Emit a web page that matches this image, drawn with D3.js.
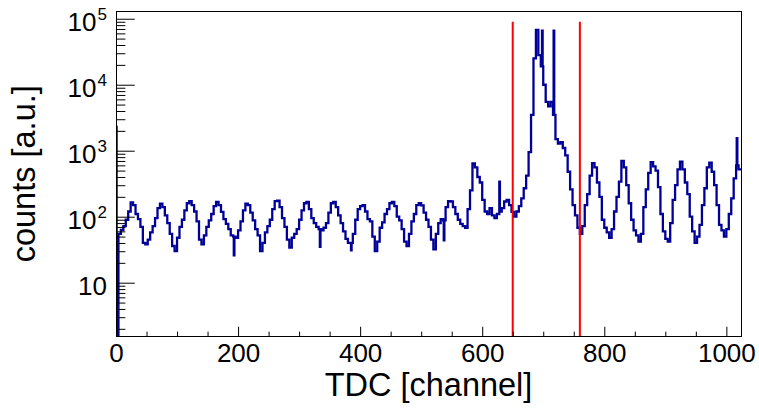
<!DOCTYPE html>
<html>
<head>
<meta charset="utf-8">
<script src="https://cdn.jsdelivr.net/npm/d3@7"></script>
<style>
  html, body { margin: 0; padding: 0; background: #fff; }
  svg { display: block; font-family: "Liberation Sans", Arial, Helvetica, sans-serif; }
</style>
</head>
<body>
<svg id="chart" width="759" height="409"></svg>
<script>
// TDC spectrum: 1024 channels, counts stored per group of 4 channels
const channelsPerBin = 4;
const nChannels = 1024;
const binCounts = [
  0, 55, 63, 72, 90, 120, 165, 150, 110, 92, 70, 40, 38, 45, 58, 72,
  95, 135, 158, 140, 105, 80, 55, 36, 30, 48, 70, 90, 125, 160, 172, 150,
  120, 85, 45, 38, 52, 70, 88, 110, 145, 168, 150, 118, 92, 78, 65, 52,
  50, 48, 62, 85, 125, 158, 150, 115, 88, 65, 52, 30, 40, 58, 72, 90,
  130, 172, 175, 140, 95, 70, 45, 34, 48, 55, 65, 90, 125, 160, 168, 130,
  95, 80, 70, 65, 62, 68, 80, 115, 160, 168, 140, 105, 80, 60, 46, 40,
  40, 55, 90, 130, 145, 150, 120, 92, 85, 50, 30, 42, 68, 82, 110, 130,
  160, 168, 145, 100, 88, 65, 42, 36, 55, 85, 110, 150, 160, 148, 115, 90,
  70, 45, 32, 55, 80, 92, 88, 140, 172, 170, 140, 110, 90, 78, 72, 68,
  130, 250, 640, 560, 400, 330, 180, 120, 110, 135, 105, 95, 110, 120, 135, 170,
  180, 150, 118, 100, 120, 145, 190, 270, 420, 950, 3500, 25000, 68000, 28000, 19000, 10000,
  5500, 4700, 5500, 3500, 1500, 1280, 1350, 1100, 850, 480, 260, 150, 105, 68, 55, 72,
  150, 220, 420, 650, 560, 330, 200, 90, 68, 58, 48, 65, 120, 200, 340, 700,
  560, 300, 160, 90, 62, 52, 42, 55, 140, 260, 460, 670, 580, 500, 280, 110,
  60, 46, 42, 80, 180, 300, 520, 680, 520, 330, 220, 100, 60, 40, 50, 75,
  150, 270, 560, 660, 480, 300, 150, 75, 62, 50, 65, 110, 190, 380, 600, 520
];

// single channels that stand apart from their group
const spikeChannels = [0, 1, 2, 3, 193, 334, 385, 537, 628, 698, 717, 1017];
const spikeCounts   = [2300, 0, 0, 0, 26, 35, 31, 44, 340, 66000, 66000, 1550];

// selection window on the TDC spectrum
const cutChannels = [650, 760];
const cutTop = 90000;

// axis ticks
const xMajorTicks = [0, 200, 400, 600, 800, 1000];
const xMinorStep = 50;
const yDecadeExponents = [1, 2, 3, 4, 5];
const yRange = [1.53, 1.31e5];

const xTitle = "TDC [channel]";
const yTitle = "counts [a.u.]";

// ---- layout ----
const frame = { left: 116, right: 741, top: 11, bottom: 336.5 };
const svg = d3.select("#chart");

const x = d3.scaleLinear().domain([0, nChannels]).range([frame.left, frame.right]);
const y = d3.scaleLog().domain(yRange).range([frame.bottom, frame.top]);

// per-channel counts
const counts = [];
for (let c = 0; c < nChannels; c++) counts.push(binCounts[Math.floor(c / channelsPerBin)]);
spikeChannels.forEach((c, i) => { counts[c] = spikeCounts[i]; });

const floorVal = yRange[0] / 20;
const pts = counts.map((v, c) => [c, Math.max(v, floorVal)]);
pts.push([nChannels, Math.max(counts[nChannels - 1], floorVal)]);

svg.append("defs").append("clipPath").attr("id", "plotClip")
  .append("rect")
  .attr("x", frame.left).attr("y", frame.top)
  .attr("width", frame.right - frame.left).attr("height", frame.bottom - frame.top);

// histogram outline
const line = d3.line().x(d => x(d[0])).y(d => y(d[1])).curve(d3.curveStepAfter);
svg.append("path")
  .datum(pts)
  .attr("clip-path", "url(#plotClip)")
  .attr("d", line)
  .attr("fill", "none")
  .attr("stroke", "#000099")
  .attr("stroke-width", 2.3)
  .attr("stroke-linejoin", "miter");

// window markers
svg.append("g").selectAll("line").data(cutChannels).join("line")
  .attr("x1", d => x(d)).attr("x2", d => x(d))
  .attr("y1", y(cutTop)).attr("y2", frame.bottom)
  .attr("stroke", "#ff0000").attr("stroke-width", 2);

// ---- axes ----
const xMinor = d3.range(0, nChannels + 1, xMinorStep).filter(v => !xMajorTicks.includes(v));
const yMajor = yDecadeExponents.map(e => Math.pow(10, e));
const yMinor = [];
for (let e = 0; e <= 5; e++) for (let m = 2; m <= 9; m++) {
  const v = m * Math.pow(10, e);
  if (v > yRange[0] && v < yRange[1]) yMinor.push(v);
}

const xLenMaj = 9.75, yLenMaj = 18.75;

const gxMinor = svg.append("g").attr("transform", `translate(0,${frame.bottom})`)
  .call(d3.axisBottom(x).tickValues(xMinor).tickSize(-xLenMaj / 2).tickSizeOuter(0).tickFormat(""));
const gx = svg.append("g").attr("transform", `translate(0,${frame.bottom})`)
  .call(d3.axisBottom(x).tickValues(xMajorTicks).tickSize(-xLenMaj).tickSizeOuter(0)
    .tickPadding(7).tickFormat(d3.format("d")));
gx.selectAll("text").attr("font-size", 26).attr("fill", "#000")
  .style("font-family", '"Liberation Sans", Arial, sans-serif');

const gyMinor = svg.append("g").attr("transform", `translate(${frame.left},0)`)
  .call(d3.axisLeft(y).tickValues(yMinor).tickSize(-yLenMaj / 2).tickSizeOuter(0).tickFormat(""));
const gy = svg.append("g").attr("transform", `translate(${frame.left},0)`)
  .call(d3.axisLeft(y).tickValues(yMajor).tickSize(-yLenMaj).tickSizeOuter(0).tickFormat(""));

[gxMinor, gx, gyMinor, gy].forEach(g => {
  g.select(".domain").remove();
  g.selectAll(".tick line").attr("stroke", "#000").attr("stroke-width", 1);
});

// y labels: 10, 10^2 ... 10^5
const yLab = svg.append("g").attr("font-size", 26).attr("fill", "#000").attr("text-anchor", "end");
yDecadeExponents.forEach(e => {
  const t = yLab.append("text").attr("x", 107).attr("y", y(Math.pow(10, e)) + 12.5).text("10");
  if (e > 1) {
    t.append("tspan").attr("dy", -11).attr("dx", 1).attr("font-size", 17).text(String(e));
  }
});

// frame
svg.append("rect")
  .attr("x", frame.left).attr("y", frame.top)
  .attr("width", frame.right - frame.left).attr("height", frame.bottom - frame.top)
  .attr("fill", "none").attr("stroke", "#000").attr("stroke-width", 1)
  .attr("shape-rendering", "crispEdges");

// axis titles
svg.append("text")
  .attr("x", (frame.left + frame.right) / 2).attr("y", 396)
  .attr("text-anchor", "middle").attr("font-size", 32.5).attr("fill", "#000")
  .text(xTitle);
svg.append("text")
  .attr("transform", `translate(35,${(frame.top + frame.bottom) / 2}) rotate(-90)`)
  .attr("text-anchor", "middle").attr("font-size", 32.5).attr("fill", "#000")
  .text(yTitle);
</script>
</body>
</html>
